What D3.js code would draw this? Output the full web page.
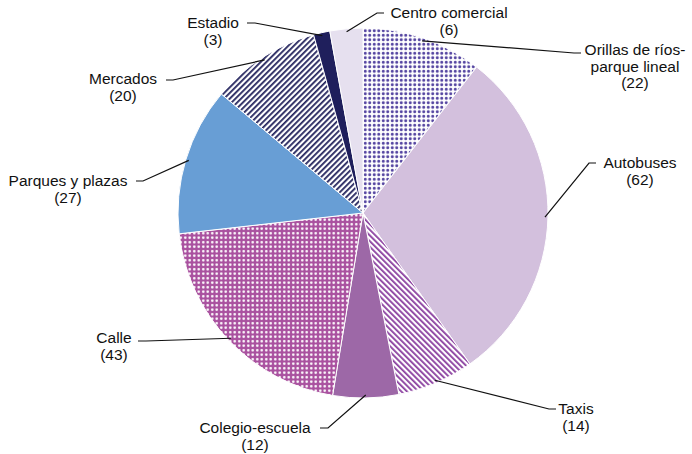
<!DOCTYPE html>
<html>
<head>
<meta charset="utf-8">
<script src="https://cdn.jsdelivr.net/npm/d3@7"></script>
<style>
  html, body { margin: 0; padding: 0; background: #fff; }
  svg { display: block; }
  text { font-family: "Liberation Sans", Arial, sans-serif; font-size: 15.5px; fill: #111; }
</style>
</head>
<body>
<svg id="chart" width="692" height="454"></svg>
<script>
// ---- data ----
const categories = ["Orillas de ríos-parque lineal", "Autobuses", "Taxis", "Colegio-escuela", "Calle", "Parques y plazas", "Mercados", "Estadio", "Centro comercial"];
const values = [22, 62, 14, 12, 43, 27, 20, 3, 6];
const labelLines = [
  ["Orillas de ríos-", "parque lineal", "(22)"],
  ["Autobuses", "(62)"],
  ["Taxis", "(14)"],
  ["Colegio-escuela", "(12)"],
  ["Calle", "(43)"],
  ["Parques y plazas", "(27)"],
  ["Mercados", "(20)"],
  ["Estadio", "(3)"],
  ["Centro comercial", "(6)"]
];

// ---- layout / style ----
const cx = 363, cy = 213, R = 185;
const fills = ["url(#pOrillas)", "#d3c0dd", "url(#pTaxis)", "#9d68a7", "url(#pCalle)", "#689ed5", "url(#pMercados)", "#1f1f5c", "#e6e0ef"];
// label placement: centre x, first baseline y, elbow point, tick end
const labelPos = [
  {x: 635, y: 55, ex: 574, ey: 53, tx: 581},
  {x: 640, y: 168, ex: 589, ey: 163, tx: 596},
  {x: 576, y: 414, ex: 549, ey: 409, tx: 556},
  {x: 255, y: 433, ex: 328, ey: 428, tx: 320},
  {x: 114, y: 343, ex: 146, ey: 341, tx: 138},
  {x: 68, y: 186, ex: 143, ey: 181, tx: 136},
  {x: 123, y: 84, ex: 173, ey: 80, tx: 166},
  {x: 213, y: 28, ex: 255, ey: 23, tx: 247},
  {x: 449, y: 18, ex: 377, ey: 13, tx: 384}
];
const lineH = 16.5;

const svg = d3.select("#chart");
const defs = svg.append("defs");

function dots(id, bg, fg, size, r) {
  const p = defs.append("pattern").attr("id", id).attr("patternUnits", "userSpaceOnUse")
    .attr("width", size).attr("height", size);
  p.append("rect").attr("width", size).attr("height", size).attr("fill", bg);
  p.append("circle").attr("cx", size / 2).attr("cy", size / 2).attr("r", r).attr("fill", fg);
}
function stripes(id, fg, angle, size, w) {
  const p = defs.append("pattern").attr("id", id).attr("patternUnits", "userSpaceOnUse")
    .attr("width", size).attr("height", size).attr("patternTransform", `rotate(${angle})`);
  p.append("rect").attr("width", size).attr("height", size).attr("fill", "#fff");
  p.append("rect").attr("width", w).attr("height", size).attr("fill", fg);
}
dots("pOrillas", "#ffffff", "#5343a0", 4.5, 1.5);
dots("pCalle", "#a9519f", "#ffffff", 4.5, 1.3);
stripes("pTaxis", "#8a3f9f", -45, 4, 1.8);
stripes("pMercados", "#25255e", 45, 4, 1.8);

const pie = d3.pie().sort(null).value(d => d)(values);
const arc = d3.arc().innerRadius(0).outerRadius(R);

const g = svg.append("g").attr("transform", `translate(${cx},${cy})`);
g.selectAll("path.slice").data(pie).join("path")
  .attr("class", "slice")
  .attr("d", arc)
  .attr("fill", (d, i) => fills[i])
  .attr("stroke", "#fff")
  .attr("stroke-width", 1);

// leader lines and labels
pie.forEach((d, i) => {
  const a = (d.startAngle + d.endAngle) / 2;
  const px = cx + (R - 3) * Math.sin(a), py = cy - (R - 3) * Math.cos(a);
  const L = labelPos[i];
  svg.append("polyline")
    .attr("points", `${px},${py} ${L.ex},${L.ey} ${L.tx},${L.ey}`)
    .attr("fill", "none").attr("stroke", "#111").attr("stroke-width", 1.2);
  const t = svg.append("text").attr("text-anchor", "middle");
  labelLines[i].forEach((s, k) => {
    t.append("tspan").attr("x", L.x).attr("y", L.y + k * lineH).text(s);
  });
});
</script>
</body>
</html>
